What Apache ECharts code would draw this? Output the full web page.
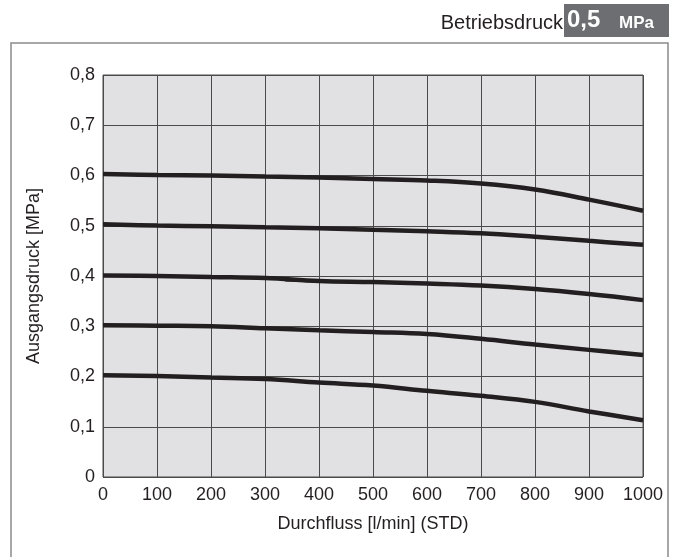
<!DOCTYPE html>
<html>
<head>
<meta charset="utf-8">
<script src="https://cdn.jsdelivr.net/npm/echarts@6/dist/echarts.min.js"></script>
<style>
html,body{margin:0;padding:0;background:#fff;}
#chart{width:677px;height:557px;}
</style>
</head>
<body>
<div id="chart"></div>
<script>
// Data
const flow = [0, 100, 200, 300, 400, 500, 600, 700, 800, 900, 1000];
const curve06 = [0.603, 0.601, 0.600, 0.598, 0.596, 0.593, 0.590, 0.584, 0.572, 0.552, 0.530];
const curve05 = [0.503, 0.5005, 0.499, 0.497, 0.495, 0.492, 0.489, 0.485, 0.478, 0.470, 0.462];
const curve04 = [0.401, 0.400, 0.398, 0.396, 0.390, 0.388, 0.385, 0.381, 0.374, 0.364, 0.352];
const curve03 = [0.302, 0.301, 0.300, 0.296, 0.292, 0.2885, 0.2845, 0.275, 0.2635, 0.253, 0.243];
const curve02 = [0.2025, 0.201, 0.198, 0.195, 0.188, 0.182, 0.1715, 0.1615, 0.1495, 0.1305, 0.113];
// small thickened overlap on the 0.4 curve near 340 l/min
const overlapX = [337, 420, 520];
const overlapY = [0.392, 0.3895, 0.3875];
const xTicks = ['0','100','200','300','400','500','600','700','800','900','1000'];
const yTicks = ['0','0,1','0,2','0,3','0,4','0,5','0,6','0,7','0,8'];

const curves = [curve06, curve05, curve04, curve03, curve02];
const pair = (xs, ys) => xs.map((x, i) => [x, ys[i]]);

const chart = echarts.init(document.getElementById('chart'), null, {renderer: 'canvas'});
const font = 'Liberation Sans, Arial, Helvetica, sans-serif';

const series = curves.map(c => ({
  type: 'line', data: pair(flow, c), smooth: 0.4, symbol: 'none',
  lineStyle: {color: '#231f20', width: 4.5}, z: 5
}));
series.push({
  type: 'line', data: pair(overlapX, overlapY), smooth: 0.3, symbol: 'none',
  lineStyle: {color: '#231f20', width: 3}, z: 5
});

chart.setOption({
  animation: false,
  backgroundColor: '#ffffff',
  grid: {left: 103, right: 34, top: 75, height: 402, show: true, backgroundColor: '#e1e1e3', borderColor: '#4a4a4a', borderWidth: 1},
  xAxis: {
    type: 'value', min: 0, max: 1000, interval: 100,
    name: 'Durchfluss [l/min] (STD)', nameLocation: 'middle', nameGap: 38,
    nameTextStyle: {fontFamily: font, fontSize: 18, color: '#231f20'},
    axisLine: {show: false}, axisTick: {show: false},
    axisLabel: {fontFamily: font, fontSize: 18, color: '#231f20', margin: 9,
      formatter: v => xTicks[Math.round(v / 100)]},
    splitLine: {show: true, lineStyle: {color: '#4a4a4a', width: 1}}
  },
  yAxis: {
    type: 'value', min: 0, max: 0.8, interval: 0.1,
    name: 'Ausgangsdruck [MPa]', nameLocation: 'middle', nameGap: 60,
    nameTextStyle: {fontFamily: font, fontSize: 18, color: '#231f20'},
    axisLine: {show: false}, axisTick: {show: false},
    axisLabel: {fontFamily: font, fontSize: 18, color: '#231f20', margin: 8,
      formatter: v => yTicks[Math.round(v * 10)]},
    splitLine: {show: true, lineStyle: {color: '#4a4a4a', width: 1}}
  },
  graphic: [
    {type: 'rect', shape: {x: 11, y: 43, width: 657, height: 530}, style: {fill: 'none', stroke: '#8a8a8a', lineWidth: 1.5}, silent: true},
    {type: 'rect', shape: {x: 564, y: 4, width: 105, height: 33}, style: {fill: '#6d6e71'}, silent: true},
    {type: 'text', x: 563, y: 23.5, style: {text: 'Betriebsdruck', textAlign: 'right', textVerticalAlign: 'middle', font: '20px ' + font, fill: '#231f20'}},
    {type: 'text', x: 567, y: 20.5, style: {text: '0,5', textAlign: 'left', textVerticalAlign: 'middle', font: 'bold 24px ' + font, fill: '#ffffff'}},
    {type: 'text', x: 619, y: 23, style: {text: 'MPa', textAlign: 'left', textVerticalAlign: 'middle', font: 'bold 17px ' + font, fill: '#ffffff'}}
  ],
  series: series
});
</script>
</body>
</html>
